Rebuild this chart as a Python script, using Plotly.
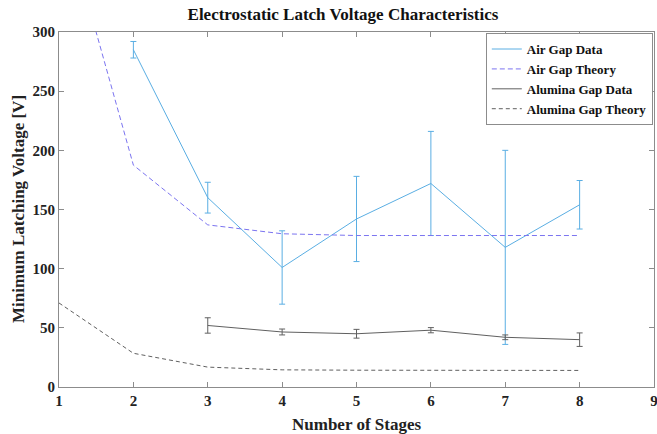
import plotly.graph_objects as go

stages = [1, 2, 3, 4, 5, 6, 7, 8]
data_stages_air = [2, 3, 4, 5, 6, 7, 8]
air_data = [285, 160, 101, 142, 172, 118, 154]
air_err = [7, 13, 31, 36, 44, 82, 20.5]
air_theory = [412, 187.5, 137, 129.5, 128, 128, 128, 128]

data_stages_alu = [3, 4, 5, 6, 7, 8]
alu_data = [52, 46.5, 45, 48, 42, 40]
alu_err = [6.5, 2.5, 3.7, 2.2, 2, 5.7]
alu_theory = [71, 28.5, 16.8, 14.5, 14.2, 14, 14, 14]

font_family = "Liberation Serif"

fig = go.Figure()
fig.add_trace(go.Scatter(
    x=data_stages_air, y=air_data, mode="lines", name="Air Gap Data",
    line=dict(color="#5aaee3", width=1),
    error_y=dict(type="data", array=air_err, visible=True, color="#5aaee3", thickness=1, width=3),
))
fig.add_trace(go.Scatter(
    x=stages, y=air_theory, mode="lines", name="Air Gap Theory",
    line=dict(color="#7b74f0", width=1, dash="5px,3px"),
))
fig.add_trace(go.Scatter(
    x=data_stages_alu, y=alu_data, mode="lines", name="Alumina Gap Data",
    line=dict(color="#606060", width=1),
    error_y=dict(type="data", array=alu_err, visible=True, color="#606060", thickness=1, width=3),
))
fig.add_trace(go.Scatter(
    x=stages, y=alu_theory, mode="lines", name="Alumina Gap Theory",
    line=dict(color="#606060", width=1, dash="4px,3px"),
))

axis_common = dict(
    showline=True, linecolor="#8c8c8c", linewidth=1, mirror="ticks",
    ticks="inside", ticklen=5, tickcolor="#8c8c8c", showgrid=False, zeroline=False,
    automargin=False, ticklabeloverflow="allow",
    tickfont=dict(family=font_family, size=15, color="#222", weight="bold"),
)

fig.update_layout(
    width=657, height=434,
    margin=dict(l=59, r=3, t=32, b=47),
    paper_bgcolor="white", plot_bgcolor="white",
    title=dict(text="<b>Electrostatic Latch Voltage Characteristics</b>",
               x=0.522, xanchor="center", y=0.968, yanchor="middle",
               font=dict(family=font_family, size=17, color="#111")),
    xaxis=dict(range=[1, 9], dtick=1, **axis_common),
    yaxis=dict(range=[0, 300], dtick=50, **axis_common),
    legend=dict(x=0.998, xanchor="right", y=0.997, yanchor="top",
                bordercolor="#8c8c8c", borderwidth=1, bgcolor="white",
                font=dict(family=font_family, size=13, color="#111", weight="bold"),
                tracegroupgap=0, itemwidth=30),
    showlegend=True,
    annotations=[
        dict(text="<b>Number of Stages</b>", xref="paper", yref="paper",
             x=0.5, y=-0.105, xanchor="center", yanchor="middle", showarrow=False,
             font=dict(family=font_family, size=17, color="#222")),
        dict(text="<b>Minimum Latching Voltage [V]</b>", xref="paper", yref="paper",
             x=-0.068, y=0.5, xanchor="center", yanchor="middle", showarrow=False,
             textangle=-90,
             font=dict(family=font_family, size=17, color="#222")),
    ],
)

fig.write_html("out.html", config={"displayModeBar": False},
               post_script="document.body.style.margin='0';document.body.style.overflow='hidden';")
